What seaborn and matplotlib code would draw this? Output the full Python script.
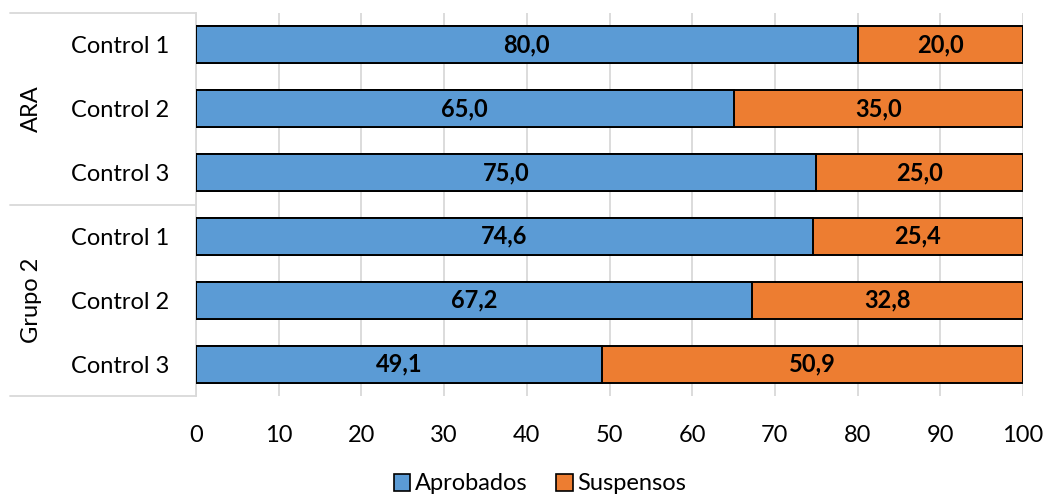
import matplotlib
matplotlib.use("Agg")
import matplotlib.pyplot as plt
import seaborn as sns
import pandas as pd
from matplotlib.patches import Patch
from matplotlib.transforms import blended_transform_factory

# Data
groups = ["ARA", "ARA", "ARA", "Grupo 2", "Grupo 2", "Grupo 2"]
controls = ["Control 1", "Control 2", "Control 3", "Control 1", "Control 2", "Control 3"]
aprobados = [80.0, 65.0, 75.0, 74.6, 67.2, 49.1]
suspensos = [20.0, 35.0, 25.0, 25.4, 32.8, 50.9]
x_ticks = [0, 10, 20, 30, 40, 50, 60, 70, 80, 90, 100]

BLUE = "#5B9BD5"
ORANGE = "#ED7D31"
GRID = "#D9D9D9"

sns.set_theme(style="white")
plt.rcParams["font.family"] = ["Lato", "DejaVu Sans"]
plt.rcParams["text.color"] = "black"
plt.rcParams["xtick.color"] = "black"
plt.rcParams["ytick.color"] = "black"

df = pd.DataFrame({
    "key": [f"{g}|{c}" for g, c in zip(groups, controls)],
    "Aprobados": aprobados,
    "Suspensos": suspensos,
})
df["Total"] = df["Aprobados"] + df["Suspensos"]

fig = plt.figure(figsize=(10.48, 4.97), dpi=100)
ax = fig.add_axes([196 / 1048, 1 - 396 / 497, (1023 - 196) / 1048, (396 - 13) / 497])

# Stacked horizontal bars: full bar (Suspensos on top of Aprobados) then Aprobados
sns.barplot(data=df, x="Total", y="key", orient="h", color=ORANGE, width=0.58,
            edgecolor="black", linewidth=1.4, saturation=1, ax=ax, zorder=3)
sns.barplot(data=df, x="Aprobados", y="key", orient="h", color=BLUE, width=0.58,
            edgecolor="black", linewidth=1.4, saturation=1, ax=ax, zorder=4)

# Value labels centred in each segment
for i, (a, s) in enumerate(zip(aprobados, suspensos)):
    ax.text(a / 2, i, f"{a:.1f}".replace(".", ","), ha="center", va="center",
            fontsize=17, fontweight="bold", color="black", zorder=5)
    ax.text(a + s / 2, i, f"{s:.1f}".replace(".", ","), ha="center", va="center",
            fontsize=17, fontweight="bold", color="black", zorder=5)

ax.set_xlim(0, 100)
ax.set_ylim(len(controls) - 0.5, -0.5)
ax.set_xticks(x_ticks)
ax.set_xticklabels([str(t) for t in x_ticks], fontsize=17)
ax.set_yticks(range(len(controls)))
ax.set_yticklabels(controls, fontsize=17)
ax.tick_params(axis="x", length=0, pad=21)
ax.tick_params(axis="y", length=0, pad=19)
ax.set_xlabel("")
ax.set_ylabel("")
ax.xaxis.grid(True, color=GRID, linewidth=1.3, zorder=0)
ax.set_axisbelow(True)
for side in ["top", "right", "bottom"]:
    ax.spines[side].set_visible(False)
ax.spines["left"].set_color(GRID)
ax.spines["left"].set_linewidth(1.3)

# Group label column with separators
trans = blended_transform_factory(ax.transAxes, ax.transData)
x0 = (10 - 196) / (1023 - 196)
for yb in [-0.5, 2.5, 5.5]:
    ax.plot([x0, 0], [yb, yb], color=GRID, linewidth=1.3, transform=trans, clip_on=False)
group_names = ["ARA", "Grupo 2"]
for k, g in enumerate(group_names):
    ax.text((31 - 196) / (1023 - 196), 1 + 3 * k, g, rotation=90, ha="center", va="center",
            fontsize=17, transform=trans)

handles = [Patch(facecolor=BLUE, edgecolor="black", linewidth=1.2, label="Aprobados"),
           Patch(facecolor=ORANGE, edgecolor="black", linewidth=1.2, label="Suspensos")]
fig.legend(handles=handles, loc="center", bbox_to_anchor=(540 / 1048, 1 - 484 / 497),
           ncol=2, frameon=False, fontsize=17, handlelength=0.7, handleheight=0.7,
           handletextpad=0.2, columnspacing=1.2)

fig.savefig("out.png", dpi=100)
